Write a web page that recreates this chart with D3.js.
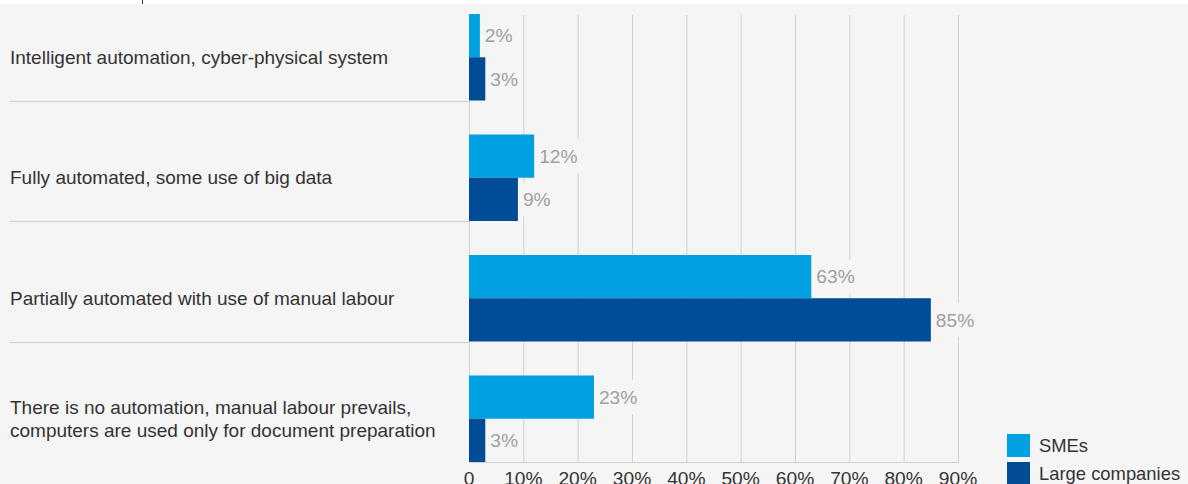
<!DOCTYPE html>
<html>
<head>
<meta charset="utf-8">
<script src="https://cdn.jsdelivr.net/npm/d3@7"></script>
<style>
  html, body { margin: 0; padding: 0; background: #ffffff; }
  svg { display: block; }
  text { font-family: "Liberation Sans", Arial, sans-serif; }
</style>
</head>
<body>
<svg id="chart" width="1188" height="484"></svg>
<script>
// Level of automation in production, share of respondents
const categories = [
  ["Intelligent automation, cyber-physical system"],
  ["Fully automated, some use of big data"],
  ["Partially automated with use of manual labour"],
  ["There is no automation, manual labour prevails,", "computers are used only for document preparation"]
];
const seriesNames = ["SMEs", "Large companies"];
const smeValues = [2, 12, 63, 23];
const largeValues = [3, 9, 85, 3];
const tickValues = [0, 10, 20, 30, 40, 50, 60, 70, 80, 90];
const tickLabels = ["0", "10%", "20%", "30%", "40%", "50%", "60%", "70%", "80%", "90%"];
const colors = ["#00a1e1", "#004c97"];

const W = 1188, H = 484;
const svg = d3.select("#chart");

// panel background with a thin white strip on top
svg.append("rect").attr("x", 0).attr("y", 0).attr("width", W).attr("height", H).attr("fill", "#ffffff");
svg.append("rect").attr("x", 0).attr("y", 4).attr("width", W).attr("height", H - 4).attr("fill", "#f5f5f5");
svg.append("line").attr("x1", 142.5).attr("x2", 142.5).attr("y1", 0).attr("y2", 4)
  .attr("stroke", "#333").attr("stroke-width", 1);

const x = d3.scaleLinear().domain([0, 90]).range([469, 958]);
const keys = categories.map((c, i) => i);
const y = d3.scaleBand().domain(keys).range([-20, 462]).paddingInner(0).paddingOuter(0);
// bars sit in the lower part of each band
const inner = d3.scaleBand().domain([0, 1]).range([34, y.bandwidth()]).padding(0);

const plotTop = 15, plotBottom = 462;

// vertical gridlines
svg.append("g").selectAll("line").data(tickValues).join("line")
  .attr("x1", d => x(d) + 0.5).attr("x2", d => x(d) + 0.5)
  .attr("y1", plotTop).attr("y2", plotBottom)
  .attr("stroke", "#d0d0d0").attr("stroke-width", 1);

// bottom axis line
svg.append("line").attr("x1", x(0)).attr("x2", x(90) + 1)
  .attr("y1", plotBottom + 0.5).attr("y2", plotBottom + 0.5)
  .attr("stroke", "#d0d0d0").attr("stroke-width", 1);

// category separators
svg.append("g").selectAll("line").data(keys.slice(0, 3)).join("line")
  .attr("x1", 10).attr("x2", x(0))
  .attr("y1", d => Math.round(y(d) + y.bandwidth()) + 0.5)
  .attr("y2", d => Math.round(y(d) + y.bandwidth()) + 0.5)
  .attr("stroke", "#cfcfcf").attr("stroke-width", 1);

// category labels
const catG = svg.append("g");
categories.forEach((lines, i) => {
  const cy = y(i) + (inner(0) + y.bandwidth()) / 2;
  const lh = 22.7;
  const t = catG.append("text")
    .attr("x", 10)
    .attr("font-size", 19)
    .attr("fill", "#333");
  lines.forEach((ln, j) => {
    t.append("tspan").attr("x", 10)
      .attr("y", cy + (j - (lines.length - 1) / 2) * lh)
      .attr("dy", "0.35em")
      .text(ln);
  });
});

// bars and value labels
const series = [smeValues, largeValues];
series.forEach((vals, s) => {
  const g = svg.append("g");
  g.selectAll("rect").data(vals).join("rect")
    .attr("x", x(0))
    .attr("y", (d, i) => y(i) + inner(s))
    .attr("width", d => x(d) - x(0))
    .attr("height", inner.bandwidth())
    .attr("fill", colors[s]);

  const lg = g.selectAll("g.lbl").data(vals).join("g").attr("class", "lbl");
  lg.each(function (d, i) {
    const cy = y(i) + inner(s) + inner.bandwidth() / 2;
    const gg = d3.select(this);
    const bg = gg.append("rect").attr("fill", "#f5f5f5");
    const t = gg.append("text")
      .attr("x", x(d) + 5)
      .attr("y", cy)
      .attr("dy", "0.35em")
      .attr("font-size", 19.2)
      .attr("fill", "#a0a0a0")
      .text(d + "%");
    const bb = t.node().getBBox();
    bg.attr("x", x(d) + 1).attr("y", cy - 17)
      .attr("width", bb.width + 8).attr("height", 34);
  });
});

// x tick labels (the row runs into the bottom edge of the panel)
svg.append("g").selectAll("text").data(tickValues).join("text")
  .attr("x", d => x(d))
  .attr("y", 485)
  .attr("text-anchor", "middle")
  .attr("font-size", 19.2)
  .attr("fill", "#333")
  .text((d, i) => tickLabels[i]);

// legend
const leg = svg.append("g").attr("transform", "translate(1007,434)");
seriesNames.forEach((n, i) => {
  leg.append("rect").attr("x", 0).attr("y", i * 28).attr("width", 23).attr("height", 23).attr("fill", colors[i]);
  leg.append("text").attr("x", 32).attr("y", i * 28 + 11.5).attr("dy", "0.35em")
    .attr("font-size", 18.4).attr("fill", "#333").text(n);
});
</script>
</body>
</html>
